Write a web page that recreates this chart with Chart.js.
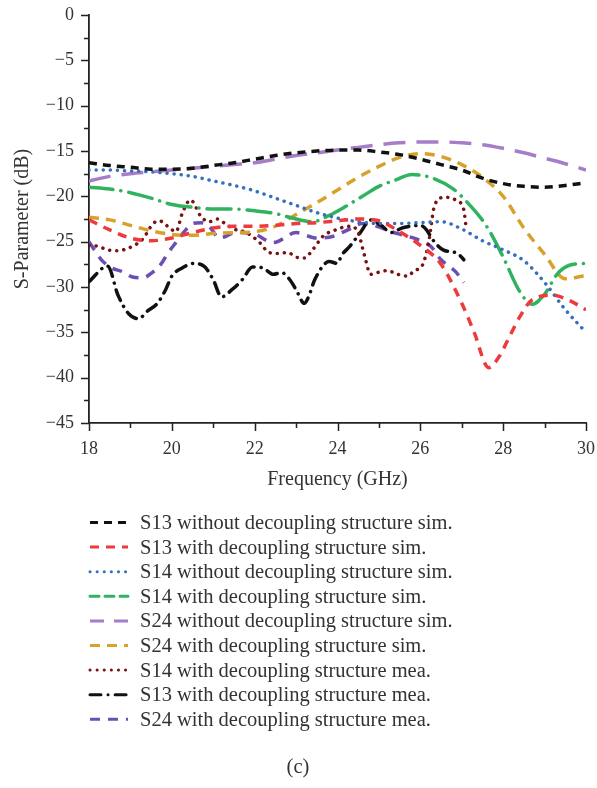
<!DOCTYPE html>
<html>
<head>
<meta charset="utf-8">
<script src="https://cdn.jsdelivr.net/npm/chart.js"></script>
<style>
  html, body { margin: 0; padding: 0; background: #fff; }
  canvas { display: block; }
</style>
</head>
<body>
<canvas id="sChart" width="597" height="788"></canvas>
<script>
// S-parameter curves (frequency in GHz, values in dB)
const yTicks = [0, -5, -10, -15, -20, -25, -30, -35, -40, -45];
const xTicks = [18, 20, 22, 24, 26, 28, 30];

const f13woSim = [18, 18.5, 19, 19.5, 20, 20.5, 21, 21.5, 22, 22.5, 23, 23.5, 24, 24.5, 25, 25.5, 26, 26.5, 27, 27.5, 28, 28.5, 29, 29.5, 30];
const s13woSim = [-16.3, -16.6, -16.8, -17, -17, -16.9, -16.6, -16.3, -15.9, -15.5, -15.2, -15, -14.9, -14.9, -15.1, -15.4, -15.9, -16.5, -17.1, -18, -18.6, -18.9, -19, -18.8, -18.5];

const f13wSim = [18, 18.5, 19, 19.5, 20, 20.5, 21, 21.5, 22, 22.5, 23, 23.5, 24, 24.5, 25, 25.5, 26, 26.5, 27, 27.3, 27.65, 27.9, 28.15, 28.4, 28.7, 29.2, 29.6, 30];
const s13wSim = [-22.6, -23.7, -24.6, -24.9, -24.6, -24, -23.5, -23.3, -23.3, -23.2, -23, -22.9, -22.7, -22.5, -22.7, -23.9, -25.4, -27.5, -31.8, -35, -38.9, -37.7, -35.5, -33.3, -31.4, -30.9, -31.5, -32.5];

const f14woSim = [18, 18.5, 19, 19.5, 20, 20.5, 21, 21.5, 22, 22.5, 23, 23.5, 24, 24.5, 25, 25.5, 26, 26.5, 27, 27.5, 28, 28.5, 29, 29.5, 30];
const s14woSim = [-17.1, -17.1, -17.2, -17.3, -17.5, -17.8, -18.3, -18.8, -19.4, -20.2, -21, -21.8, -22.4, -22.8, -23, -23, -22.9, -22.8, -23.6, -24.9, -25.9, -27.1, -29.5, -32.5, -35];

const f14wSim = [18, 18.5, 19, 19.5, 20, 20.5, 21, 21.5, 22, 22.5, 23, 23.4, 23.8, 24.2, 24.6, 25, 25.4, 25.8, 26.3, 26.8, 27.2, 27.6, 28, 28.4, 28.7, 29, 29.3, 29.6, 30];
const s14wSim = [-19, -19.2, -19.6, -20.2, -20.9, -21.2, -21.4, -21.4, -21.6, -21.9, -22.5, -22.8, -22.1, -21.1, -20, -18.9, -18.2, -17.6, -18, -19.2, -21, -23.3, -26.7, -30.5, -31.9, -30.8, -28.6, -27.6, -27.4];

const f24woSim = [18, 18.5, 19, 19.5, 20, 20.5, 21, 21.5, 22, 22.5, 23, 23.5, 24, 24.5, 25, 25.5, 26, 26.5, 27, 27.5, 28, 28.5, 29, 29.5, 30];
const s24woSim = [-18.3, -17.8, -17.5, -17.3, -17.1, -16.9, -16.7, -16.5, -16.3, -15.9, -15.5, -15.2, -14.9, -14.6, -14.3, -14.1, -14, -14, -14.1, -14.3, -14.7, -15.2, -15.8, -16.4, -17.1];

const f24wSim = [18, 18.5, 19, 19.5, 20, 20.5, 21, 21.5, 22, 22.5, 23, 23.5, 24, 24.5, 25, 25.5, 26, 26.5, 27, 27.5, 28, 28.5, 29, 29.5, 30];
const s24wSim = [-22.3, -22.6, -23.2, -23.8, -24.2, -24.3, -24.1, -24, -23.9, -23.3, -22, -20.7, -19.3, -17.9, -16.7, -15.7, -15.3, -15.6, -16.5, -17.9, -20, -23.5, -26.4, -29.1, -28.7];

const f14wMea = [18, 18.2, 18.45, 18.7, 18.9, 19.1, 19.3, 19.55, 19.7, 19.9, 20.1, 20.25, 20.45, 20.7, 20.9, 21.1, 21.25, 21.5, 21.8, 22.1, 22.35, 22.55, 22.8, 23, 23.2, 23.4, 23.65, 23.9, 24.3, 24.5, 24.65, 24.8, 25.05, 25.2, 25.45, 25.7, 25.85, 26.05, 26.2, 26.35, 26.6, 26.85, 27.05, 27.1];
const s14wMea = [-25.4, -25.5, -25.9, -26, -25.8, -25.4, -24.7, -23, -22.7, -23.3, -23.9, -21.9, -20.4, -22.2, -22.8, -22.5, -22.9, -23.6, -24, -25, -26.2, -26.3, -26.2, -26.7, -26.8, -25.9, -24.4, -23.8, -23.3, -24, -26.5, -28.6, -28.3, -28.2, -28.6, -28.8, -28.2, -27.6, -25.1, -20.9, -20.1, -20.4, -21.5, -23.2];

const f13wMea = [18, 18.45, 18.7, 18.95, 19.2, 19.4, 19.65, 19.85, 20, 20.25, 20.55, 20.8, 21, 21.2, 21.45, 21.7, 21.95, 22.2, 22.45, 22.65, 22.85, 23, 23.2, 23.3, 23.45, 23.8, 24, 24.1, 24.3, 24.55, 24.8, 25.05, 25.3, 25.55, 25.75, 26, 26.15, 26.3, 26.55, 26.9, 27.05];
const s13wMea = [-29.4, -27.7, -30.9, -32.9, -33.5, -32.7, -31.8, -30.3, -28.8, -27.9, -27.4, -27.8, -29.2, -31.1, -30.3, -29.2, -27.8, -27.9, -28.6, -28.4, -29.2, -30.3, -31.8, -31.1, -29.2, -27.2, -27.4, -26.5, -25.5, -24, -22.6, -23.2, -24, -23.5, -23.3, -23.2, -23.7, -24.8, -25.9, -26.3, -27];

const f24wMea = [18, 18.3, 18.55, 18.8, 19.05, 19.3, 19.5, 19.75, 19.9, 20.15, 20.3, 20.5, 20.7, 20.9, 21.15, 21.55, 21.95, 22.45, 23, 23.5, 23.9, 24.25, 24.6, 24.95, 25.3, 25.6, 25.9, 26.25, 26.5, 26.85, 27.05];
const s24wMea = [-25, -27, -27.9, -28.3, -28.9, -29, -28.5, -27.4, -26.3, -24.8, -23.9, -23, -22.9, -23.3, -24.6, -24, -24.1, -25.1, -24, -24.6, -24.4, -23.7, -23, -23.3, -23.9, -24.3, -24.7, -25.5, -27, -28.3, -29.5];

const seriesNames = [
  'S13 without decoupling structure sim.',
  'S13 with decoupling structure sim.',
  'S14 without decoupling structure sim.',
  'S14 with decoupling structure sim.',
  'S24 without decoupling structure sim.',
  'S24 with decoupling structure sim.',
  'S14 with decoupling structure mea.',
  'S13 with decoupling structure mea.',
  'S24 with decoupling structure mea.'
];

const pts = (fs, vs) => fs.map((f, i) => ({ x: f, y: vs[i] }));
const FONT = "'Liberation Serif', 'Times New Roman', serif";

function line(label, data, color, dash, cap, legendDash) {
  return {
    label: label,
    data: data,
    borderColor: color,
    backgroundColor: color,
    borderWidth: 3.5,
    borderDash: dash,
    borderCapStyle: cap,
    pointRadius: 0,
    tension: 0.4,
    cubicInterpolationMode: 'monotone',
    fill: false,
    legendDash: legendDash || dash
  };
}

const datasets = [
  line(seriesNames[0], pts(f13woSim, s13woSim), '#111111', [8, 6], 'butt'),
  line(seriesNames[1], pts(f13wSim, s13wSim), '#ec3a3d', [9, 7], 'butt'),
  line(seriesNames[2], pts(f14woSim, s14woSim), '#3470bf', [0.1, 7], 'round', [0.1, 7]),
  line(seriesNames[3], pts(f14wSim, s14wSim), '#2fb35f', [24, 8, 0.1, 8], 'round', [9, 6]),
  line(seriesNames[4], pts(f24woSim, s24woSim), '#a67dc8', [22, 11], 'butt', [14, 10]),
  line(seriesNames[5], pts(f24wSim, s24wSim), '#d8a12a', [10, 7], 'butt'),
  line(seriesNames[6], pts(f14wMea, s14wMea), '#7a1215', [0.1, 7], 'round'),
  line(seriesNames[7], pts(f13wMea, s13wMea), '#111111', [11, 7, 0.1, 7], 'round'),
  line(seriesNames[8], pts(f24wMea, s24wMea), '#6c4fb2', [10, 8], 'butt')
];

// minor/major tick marks, legend column and caption
const decor = {
  id: 'decor',
  afterDraw(chart) {
    const ctx = chart.ctx;
    const xs = chart.scales.x, ys = chart.scales.y;
    const a = chart.chartArea;
    ctx.save();
    ctx.strokeStyle = '#222';
    ctx.lineWidth = 1.5;
    ctx.beginPath();
    for (let v = -45; v <= 0; v += 2.5) {
      const y = Math.round(ys.getPixelForValue(v)) + 0.5;
      const len = (v % 5 === 0) ? 8 : 5;
      ctx.moveTo(a.left, y);
      ctx.lineTo(a.left - len, y);
    }
    for (let f = 18; f <= 30; f += 1) {
      const x = Math.round(xs.getPixelForValue(f)) + 0.5;
      const len = (f % 2 === 0) ? 8 : 5;
      ctx.moveTo(x, a.bottom);
      ctx.lineTo(x, a.bottom + len);
    }
    ctx.stroke();

    // legend
    const x0 = 90, x1 = 128, tx = 140;
    let base = 529;
    ctx.font = '20.5px ' + FONT;
    ctx.textBaseline = 'alphabetic';
    ctx.textAlign = 'left';
    chart.data.datasets.forEach(ds => {
      const ly = base - 6.5;
      ctx.save();
      ctx.strokeStyle = ds.borderColor;
      ctx.lineWidth = 3;
      ctx.lineCap = ds.borderCapStyle;
      ctx.setLineDash(ds.legendDash);
      ctx.beginPath();
      ctx.moveTo(x0, ly);
      ctx.lineTo(x1, ly);
      ctx.stroke();
      ctx.restore();
      ctx.fillStyle = '#333';
      ctx.fillText(ds.label, tx, base);
      base += 24.6;
    });

    ctx.textAlign = 'center';
    ctx.fillStyle = '#333';
    ctx.fillText('(c)', 298, 773);
    ctx.restore();
  }
};

new Chart(document.getElementById('sChart'), {
  type: 'line',
  data: { datasets: datasets },
  plugins: [decor],
  options: {
    responsive: false,
    animation: false,
    layout: { padding: { top: 15, right: 11, bottom: 295, left: 0 } },
    plugins: {
      legend: { display: false },
      tooltip: { enabled: false }
    },
    scales: {
      x: {
        type: 'linear',
        min: 18,
        max: 30,
        afterBuildTicks: s => { s.ticks = xTicks.map(v => ({ value: v })); },
        afterFit: s => { s.height = 70; s.paddingLeft = 0; s.paddingRight = 0; },
        grid: { display: true, drawOnChartArea: false, color: 'transparent', tickLength: 8 },
        border: { display: true, color: '#222', width: 1.8 },
        ticks: { color: '#333', padding: 7, font: { family: FONT, size: 18 }, maxRotation: 0 },
        title: { display: true, text: 'Frequency (GHz)', color: '#333', font: { family: FONT, size: 20 }, padding: { top: 0, bottom: 1 } }
      },
      y: {
        min: -45,
        max: 0,
        afterBuildTicks: s => { s.ticks = yTicks.map(v => ({ value: v })); },
        afterFit: s => { s.width = 89; s.paddingTop = 0; s.paddingBottom = 0; },
        grid: { display: true, drawOnChartArea: false, color: 'transparent', tickLength: 8 },
        border: { display: true, color: '#222', width: 1.8 },
        ticks: {
          color: '#333', padding: 7, font: { family: FONT, size: 18 },
          callback: v => (v < 0 ? '\u2212' + Math.abs(v) : String(v))
        },
        title: { display: true, text: 'S-Parameter (dB)', color: '#333', font: { family: FONT, size: 20 }, padding: { top: 11, bottom: 0 } }
      }
    }
  }
});
</script>
</body>
</html>
